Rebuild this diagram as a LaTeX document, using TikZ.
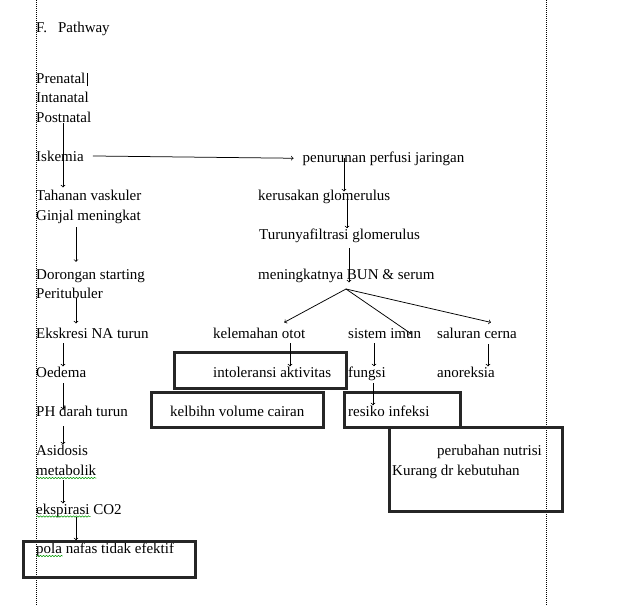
\documentclass[tikz,border=0pt]{standalone}
\usepackage{fontspec}
\setmainfont{Liberation Serif}
\usetikzlibrary{calc,decorations.pathmorphing}

\begin{document}
\begin{tikzpicture}[x=1pt, y=-1pt,
  txt/.style={anchor=base west, inner sep=0pt, font=\fontsize{15}{18}\selectfont},
  box/.style={draw=black!85, line width=3pt, inner sep=0pt},
  arr/.style={->, line width=0.75pt},
  margin/.style={line width=1pt, dash pattern=on 1pt off 1pt},
  squiggle/.style={green!60!black, line width=0.5pt, decorate,
    decoration={snake, amplitude=0.7pt, segment length=3pt}}]
\useasboundingbox (0,0) rectangle (620,606);
\coordinate (mlt) at (36.5,0); \coordinate (mlb) at (36.5,606);
\coordinate (mrt) at (546,0); \coordinate (mrb) at (546,606);
\draw[margin] (mlt) -- (mlb);
\draw[margin] (mrt) -- (mrb);

\node[txt] (title) at (36,32) {F.\hspace{11pt}Pathway};
\node[txt] (prenatal) at (36,83) {Prenatal};
\node[txt] (intanatal) at (36,102) {Intanatal};
\node[txt] (postnatal) at (36,122) {Postnatal};
\node[txt] (iskemia) at (36,161) {Iskemia};
\node[txt] (tahanan) at (36,200) {Tahanan vaskuler};
\node[txt] (ginjal) at (36,220) {Ginjal meningkat};
\node[txt] (dorongan) at (36,279) {Dorongan starting};
\node[txt] (peritubuler) at (36,298) {Peritubuler};
\node[txt] (ekskresi) at (36,338) {Ekskresi NA turun};
\node[txt] (oedema) at (36,377) {Oedema};
\node[txt] (ph) at (36,416) {PH darah turun};
\node[txt] (asidosis) at (36,455) {Asidosis};
\node[txt] (metabolik) at (36,475) {metabolik};
\node[txt] (ekspirasi) at (36,514) {ekspirasi CO2};
\node[txt] (pola) at (36,553) {pola nafas tidak efektif};

\node[txt] (perfusi) at (302.5,162) {penurunan perfusi jaringan};
\node[txt] (kerusakan) at (258,200) {kerusakan glomerulus};
\node[txt] (filtrasi) at (259,239) {Turunyafiltrasi glomerulus};
\node[txt] (bun) at (258,279) {meningkatnya BUN \& serum};
\node[txt] (kelemahan) at (213,338) {kelemahan otot};
\node[txt] (imun) at (348,338) {sistem imun};
\node[txt] (cerna) at (437,338) {saluran cerna};
\node[txt] (intoleransi) at (213,377) {intoleransi aktivitas};
\node[txt] (fungsi) at (348,377) {fungsi};
\node[txt] (anoreksia) at (437,377) {anoreksia};
\node[txt] (volume) at (170,416) {kelbihn volume cairan};
\node[txt] (infeksi) at (348,416) {resiko infeksi};
\node[txt] (nutrisi) at (437,455) {perubahan nutrisi};
\node[txt] (kebutuhan) at (392,475) {Kurang dr kebutuhan};

\node[box, minimum width=172pt, minimum height=36pt] (boxIntol) at (260,370) {};
\node[box, minimum width=172pt, minimum height=35pt] (boxVolume) at (237,409.5) {};
\node[box, minimum width=116pt, minimum height=35pt] (boxInfeksi) at (402,409.5) {};
\node[box, minimum width=173pt, minimum height=84pt] (boxNutrisi) at (475.5,469) {};
\node[box, minimum width=172pt, minimum height=36pt] (boxPola) at (109,559) {};

\draw[line width=1.6pt] ($(prenatal.base east)+(2,3)$) -- ++(0,-13);

\coordinate (colA) at (63,0);
\coordinate (colB) at (76,0);
\coordinate (colC) at (344,0);
\coordinate (colD) at (347,0);
\coordinate (colE) at (349,0);
\coordinate (colF) at (290,0);
\coordinate (colG) at (374,0);
\coordinate (colH) at (373,0);
\coordinate (colI) at (488,0);
\coordinate (fan) at (346,289);

\draw[arr, shorten <=1pt, shorten >=2pt] (postnatal.south -| colA) -- (tahanan.north -| colA);
\draw[arr, shorten <=9pt, shorten >=9pt] (iskemia.east) -- (perfusi.west);
\draw[arr, shorten <=4pt, shorten >=7pt] (ginjal.south -| colB) -- (dorongan.north -| colB);
\draw[arr, shorten >=4pt] (peritubuler.south -| colB) -- (ekskresi.north -| colB);
\draw[arr, shorten <=5pt] (ekskresi.south -| colA) -- (oedema.north -| colA);
\draw[arr, shorten <=6pt, shorten >=-4pt] (oedema.south -| colA) -- (ph.north -| colA);
\draw[arr, shorten <=10pt] (ph.south -| colA) -- (asidosis.north -| colA);
\draw[arr, shorten <=5pt] (metabolik.south -| colA) -- (ekspirasi.north -| colA);
\draw[arr, shorten >=2pt] (ekspirasi.south -| colB) -- (pola.north -| colB);

\draw[arr, shorten <=-7pt, shorten >=-2pt] (perfusi.south -| colC) -- (kerusakan.north -| colC);
\draw[arr, shorten <=-8pt] (kerusakan.south -| colD) -- (filtrasi.north -| colD);
\draw[arr, shorten <=6pt, shorten >=-14pt] (filtrasi.south -| colE) -- (bun.north -| colE);
\draw[arr] (fan) -- ($(kelemahan.north)+(25,-5)$);
\draw[arr] (fan) -- ($(imun.north east)+(-10,6)$);
\draw[arr] (fan) -- ($(cerna.north)+(14,-5)$);
\draw[arr, shorten <=5pt] (kelemahan.south -| colF) -- (intoleransi.north -| colF);
\draw[arr, shorten <=5pt] (imun.south -| colG) -- (fungsi.north -| colG);
\draw[arr, shorten <=3pt] (fungsi.south -| colH) -- (infeksi.north -| colH);
\draw[arr, shorten <=6pt] (cerna.south -| colI) -- (anoreksia.north -| colI);

\draw[squiggle] ($(metabolik.base west)+(0.5,3)$) -- ($(metabolik.base east)+(0,3)$);
\draw[squiggle] ($(ekspirasi.base west)+(0.5,2.5)$) -- ++(54,0);
\draw[squiggle] ($(pola.base west)+(0.5,3)$) -- ++(26,0);
\end{tikzpicture}
\end{document}
